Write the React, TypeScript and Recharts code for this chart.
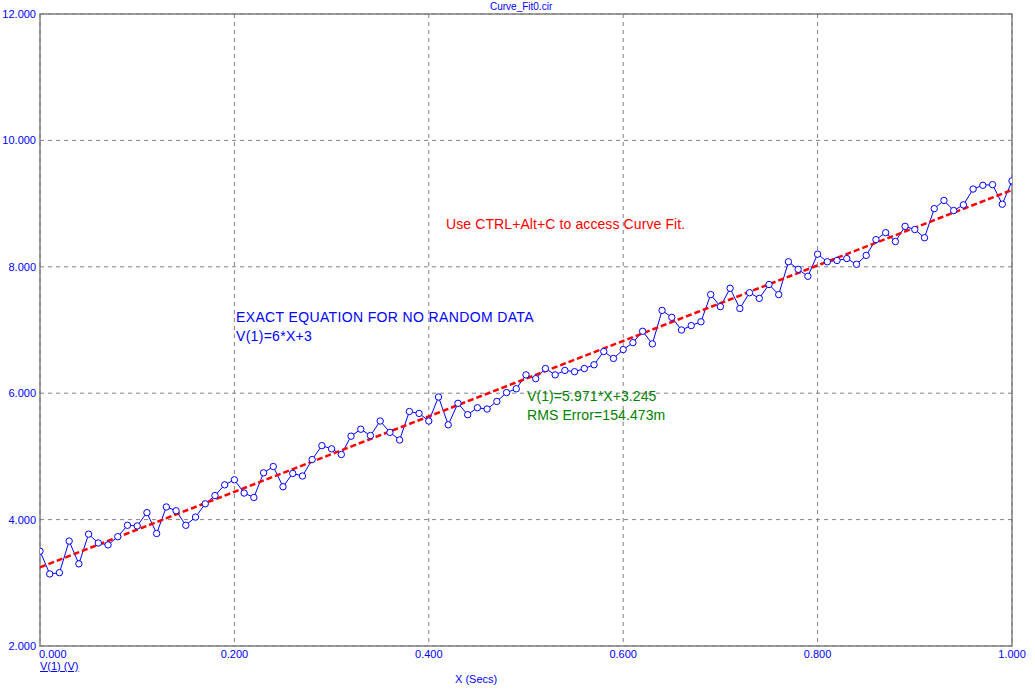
import React from "react";
import {
  LineChart,
  Line,
  XAxis,
  YAxis,
  CartesianGrid,
  ReferenceArea,
} from "recharts";

// sample times (Secs)
const xValues = [
  0.0, 0.01, 0.02, 0.03, 0.04, 0.05, 0.06, 0.07, 0.08, 0.09,
  0.1, 0.11, 0.12, 0.13, 0.14, 0.15, 0.16, 0.17, 0.18, 0.19,
  0.2, 0.21, 0.22, 0.23, 0.24, 0.25, 0.26, 0.27, 0.28, 0.29,
  0.3, 0.31, 0.32, 0.33, 0.34, 0.35, 0.36, 0.37, 0.38, 0.39,
  0.4, 0.41, 0.42, 0.43, 0.44, 0.45, 0.46, 0.47, 0.48, 0.49,
  0.5, 0.51, 0.52, 0.53, 0.54, 0.55, 0.56, 0.57, 0.58, 0.59,
  0.6, 0.61, 0.62, 0.63, 0.64, 0.65, 0.66, 0.67, 0.68, 0.69,
  0.7, 0.71, 0.72, 0.73, 0.74, 0.75, 0.76, 0.77, 0.78, 0.79,
  0.8, 0.81, 0.82, 0.83, 0.84, 0.85, 0.86, 0.87, 0.88, 0.89,
  0.9, 0.91, 0.92, 0.93, 0.94, 0.95, 0.96, 0.97, 0.98, 0.99,
  1.0,
];

// V(1) with random noise
const v1Values = [
  3.5, 3.14, 3.16, 3.66, 3.3, 3.77, 3.63, 3.6, 3.73, 3.91,
  3.9, 4.11, 3.78, 4.2, 4.14, 3.91, 4.04, 4.25, 4.38, 4.55,
  4.63, 4.42, 4.35, 4.74, 4.84, 4.52, 4.73, 4.69, 4.95, 5.17,
  5.12, 5.03, 5.32, 5.43, 5.33, 5.56, 5.38, 5.26, 5.71, 5.68,
  5.56, 5.94, 5.5, 5.84, 5.66, 5.77, 5.75, 5.87, 6.01, 6.07,
  6.29, 6.23, 6.39, 6.29, 6.36, 6.34, 6.39, 6.45, 6.66, 6.55,
  6.69, 6.8, 6.98, 6.78, 7.31, 7.2, 7.0, 7.07, 7.13, 7.56,
  7.37, 7.66, 7.34, 7.59, 7.5, 7.72, 7.56, 8.08, 7.96, 7.85,
  8.2, 8.08, 8.1, 8.13, 8.04, 8.18, 8.43, 8.54, 8.4, 8.64,
  8.59, 8.46, 8.92, 9.05, 8.89, 8.98, 9.23, 9.29, 9.3, 8.99,
  9.36,
];

// curve fit endpoints: V(1)=5.971*X+3.245
const fitX = [0, 1];
const fitY = [3.245, 9.216];

const xTicks = [0, 0.2, 0.4, 0.6, 0.8, 1.0];
const yTicks = [2, 4, 6, 8, 10, 12];

const data = xValues.map((x, i) => ({ x, v1: v1Values[i] }));
const fitData = fitX.map((x, i) => ({ x, fit: fitY[i] }));

const BLUE = "#0000ff";
const FONT = "'Liberation Sans', Arial, sans-serif";

const YTick = (props: any) => {
  const { y, payload } = props;
  return (
    <text x={36} y={y} dy={4} textAnchor="end" fill={BLUE} fontSize={11} fontFamily={FONT}>
      {payload.value.toFixed(3)}
    </text>
  );
};

const XTick = (props: any) => {
  const { x, payload } = props;
  const first = payload.value === 0;
  return (
    <text
      x={first ? x - 1 : x}
      y={658}
      textAnchor={first ? "start" : "middle"}
      fill={BLUE}
      fontSize={11}
      fontFamily={FONT}
    >
      {payload.value.toFixed(3)}
    </text>
  );
};

const label = (
  left: number,
  top: number,
  text: string,
  color: string,
  size: number,
  extra: React.CSSProperties = {}
) => (
  <div
    style={{
      position: "absolute",
      left,
      top,
      color,
      fontSize: size,
      fontFamily: FONT,
      whiteSpace: "nowrap",
      lineHeight: 1,
      ...extra,
    }}
  >
    {text}
  </div>
);

export default function App() {
  return (
    <div
      style={{
        position: "absolute",
        left: 0,
        top: 0,
        width: 1035,
        height: 692,
        background: "#ffffff",
      }}
    >
      <LineChart
        width={1035}
        height={692}
        data={data}
        margin={{ top: 14, right: 23, bottom: 0, left: 0 }}
      >
        <CartesianGrid stroke="#808080" strokeDasharray="4 4" />
        <XAxis
          dataKey="x"
          type="number"
          domain={[0, 1]}
          ticks={xTicks}
          height={46}
          tick={<XTick />}
          tickLine={false}
          axisLine={false}
          allowDataOverflow
        />
        <YAxis
          type="number"
          domain={[2, 12]}
          ticks={yTicks}
          width={40}
          tick={<YTick />}
          tickLine={false}
          axisLine={false}
          allowDataOverflow
        />
        <ReferenceArea
          x1={0}
          x2={1}
          y1={2}
          y2={12}
          fill="none"
          stroke="#808080"
          strokeWidth={1.5}
          fillOpacity={0}
        />
        <Line
          dataKey="v1"
          stroke={BLUE}
          strokeWidth={1}
          dot={{ r: 3.2, fill: "#ffffff", stroke: BLUE, strokeWidth: 1 }}
          isAnimationActive={false}
        />
        <Line
          data={fitData}
          dataKey="fit"
          stroke="#ff0000"
          strokeWidth={2.5}
          strokeDasharray="6 3"
          dot={false}
          isAnimationActive={false}
        />
      </LineChart>

      {label(490, 2, "Curve_Fit0.cir", BLUE, 10)}
      {label(40, 661, "V(1) (V)", BLUE, 11, { textDecoration: "underline" })}
      {label(455, 674, "X (Secs)", BLUE, 11)}

      {label(446, 217, "Use CTRL+Alt+C to access Curve Fit.", "#ff0000", 14, { letterSpacing: 0.1 })}
      {label(236, 310, "EXACT EQUATION FOR NO RANDOM DATA", BLUE, 14, { letterSpacing: 0.36 })}
      {label(236, 329, "V(1)=6*X+3", BLUE, 14, { letterSpacing: 0.3 })}
      {label(527, 389, "V(1)=5.971*X+3.245", "#008000", 14, { letterSpacing: 0.1 })}
      {label(527, 408, "RMS Error=154.473m", "#008000", 14, { letterSpacing: 0.1 })}
    </div>
  );
}
